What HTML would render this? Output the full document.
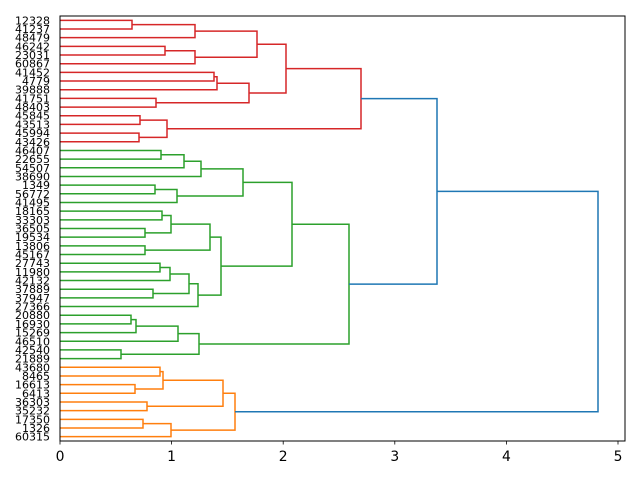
<!DOCTYPE html>
<html><head><meta charset="utf-8"><style>
body{margin:0;background:#fff}
svg{display:block}
text{font-family:"DejaVu Sans","Liberation Sans",sans-serif;fill:#000}
</style></head><body>
<svg id="s" width="640" height="480" xmlns="http://www.w3.org/2000/svg"></svg>
<script>
const labels="12328 41237 48479 46242 23031 60867 41452 4779 39888 41751 48403 45845 43513 45994 43426 46407 22655 54507 38690 1349 56772 41495 18165 33303 36505 19534 13806 45167 27743 11980 42132 37889 37947 27366 20880 16930 15269 46510 42540 21889 43680 8465 16613 6413 36303 35232 17350 1326 60315".split(" ");
const T=16,B=441,L=60,R=625;
const step=(B-T)/49;
const ly=i=>T+(i+0.5)*step;
let out="";
const R_="#d62728",G="#2ca02c",O="#ff7f0e",BL="#1f77b4";
function N(a,b,x,c){
  const ya=typeof a==="number"?ly(a):a.y, xa=typeof a==="number"?L:a.x;
  const yb=typeof b==="number"?ly(b):b.y, xb=typeof b==="number"?L:b.x;
  out+=`<polyline points="${xa},${ya} ${x},${ya} ${x},${yb} ${xb},${yb}" fill="none" stroke="${c}" stroke-width="1.5"/>`;
  return {x:x,y:(ya+yb)/2};
}
let r1=N(N(0,1,132,R_),2,195,R_);
let r2=N(N(3,4,165,R_),5,195,R_);
let r3=N(r1,r2,257,R_);
let r4=N(N(N(6,7,214,R_),8,217,R_),N(9,10,156,R_),249,R_);
let r5=N(r3,r4,286,R_);
let r6=N(N(11,12,140,R_),N(13,14,139,R_),167,R_);
let red=N(r5,r6,361,R_);
let g1=N(N(N(15,16,161,G),17,184,G),18,201,G);
let g2=N(N(19,20,155,G),21,177,G);
let g3=N(g1,g2,243,G);
let g4=N(N(N(22,23,162,G),N(24,25,145,G),171,G),N(26,27,145,G),210,G);
let g5=N(N(N(28,29,160,G),30,170,G),N(31,32,153,G),189,G);
let g6=N(g5,33,198,G);
let g7=N(g4,g6,221,G);
let g8=N(g3,g7,292,G);
let g9=N(N(N(N(34,35,131,G),36,136,G),37,178,G),N(38,39,121,G),199,G);
let green=N(g8,g9,349,G);
let o1=N(N(40,41,160,O),N(42,43,135,O),163,O);
let o2=N(o1,N(44,45,147,O),223,O);
let o3=N(N(46,47,143,O),48,171,O);
let orange=N(o2,o3,235,O);
let b1=N(red,green,437,BL);
N(b1,orange,598,BL);
out+=`<rect x="${L}" y="${T}" width="${R-L}" height="${B-T}" fill="none" stroke="#000" stroke-width="1"/>`;
labels.forEach((t,i)=>{
  out+=`<text x="50" y="${ly(i)+4}" font-size="11" text-anchor="end">${t}</text>`;
});
for(let k=0;k<=5;k++){
  const x=L+k*111.6;
  out+=`<line x1="${x}" x2="${x}" y1="${B}" y2="${B+3.5}" stroke="#000" stroke-width="0.8"/>`;
  out+=`<text x="${x}" y="${B+20}" font-size="13.9" text-anchor="middle">${k}</text>`;
}
document.getElementById("s").innerHTML=out;
</script>
</body></html>
